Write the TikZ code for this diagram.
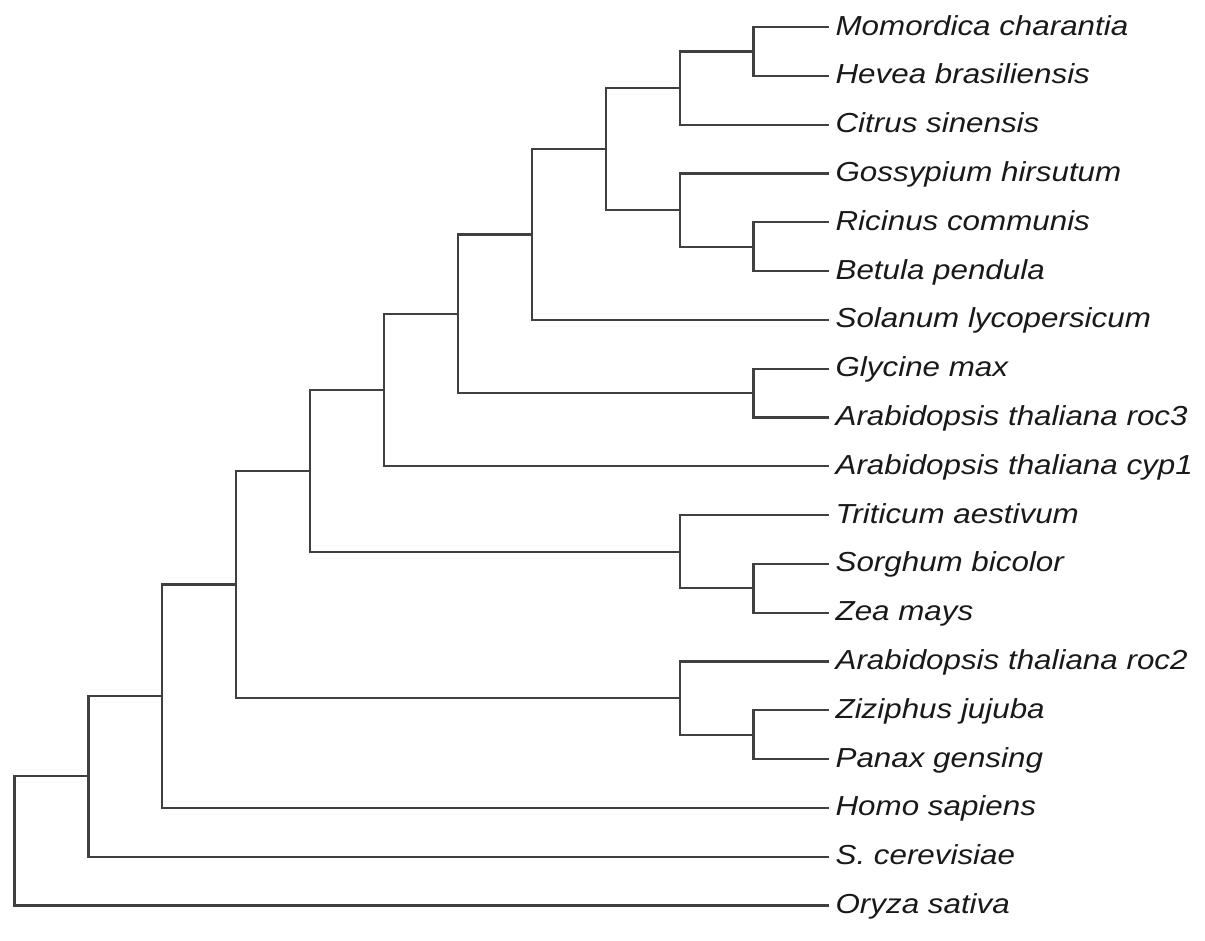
\documentclass[tikz,border=0pt]{standalone}
\usepackage{fontspec}
\setmainfont{Liberation Sans}[FakeStretch=1.14]
\begin{document}
\begin{tikzpicture}[x=1pt,y=-1pt,
  branch/.style={draw=black!75,line width=2.2pt,line cap=rect},
  leaf/.style={anchor=west,inner xsep=8pt,inner ysep=0pt,text height=21pt,text depth=5pt,
    font=\fontsize{27.5}{30}\selectfont\itshape,text=black!90}]
\useasboundingbox (0,0) rectangle (1205,940);
% leaves
\node[leaf] (l1) at (827.4,27) {Momordica charantia};
\node[leaf] (l2) at (827.4,75.8) {Hevea brasiliensis};
\node[leaf] (l3) at (827.4,124.6) {Citrus sinensis};
\node[leaf] (l4) at (827.4,173.4) {Gossypium hirsutum};
\node[leaf] (l5) at (827.4,222.2) {Ricinus communis};
\node[leaf] (l6) at (827.4,271) {Betula pendula};
\node[leaf] (l7) at (827.4,319.8) {Solanum lycopersicum};
\node[leaf] (l8) at (827.4,368.6) {Glycine max};
\node[leaf] (l9) at (827.4,417.4) {Arabidopsis thaliana roc3};
\node[leaf] (l10) at (827.4,466.2) {Arabidopsis thaliana cyp1};
\node[leaf] (l11) at (827.4,515) {Triticum aestivum};
\node[leaf] (l12) at (827.4,563.8) {Sorghum bicolor};
\node[leaf] (l13) at (827.4,612.6) {Zea mays};
\node[leaf] (l14) at (827.4,661.4) {Arabidopsis thaliana roc2};
\node[leaf] (l15) at (827.4,710.2) {Ziziphus jujuba};
\node[leaf] (l16) at (827.4,759) {Panax gensing};
\node[leaf] (l17) at (827.4,807.8) {Homo sapiens};
\node[leaf] (l18) at (827.4,856.6) {S. cerevisiae};
\node[leaf] (l19) at (827.4,905.4) {Oryza sativa};
% internal nodes
\coordinate (mh) at (753.5,51.4);
\coordinate (ni) at (679.6,88);
\coordinate (rb) at (753.5,246.6);
\coordinate (nj) at (679.6,210);
\coordinate (nh) at (605.7,149);
\coordinate (ng) at (531.8,234.4);
\coordinate (gr) at (753.5,393);
\coordinate (nf) at (457.9,313.7);
\coordinate (ne) at (384,389.95);
\coordinate (sz) at (753.5,588.2);
\coordinate (nt) at (679.6,551.6);
\coordinate (nd) at (310.1,470.8);
\coordinate (zp) at (753.5,734.6);
\coordinate (r2) at (679.6,698);
\coordinate (nc) at (236.2,584.4);
\coordinate (nb) at (162.3,696.1);
\coordinate (na) at (88.4,776.35);
\coordinate (root) at (14.5,840.9);
% connectors
\draw[branch] (mh) |- (l1.west); \draw[branch] (mh) |- (l2.west);
\draw[branch] (ni) |- (mh); \draw[branch] (ni) |- (l3.west);
\draw[branch] (rb) |- (l5.west); \draw[branch] (rb) |- (l6.west);
\draw[branch] (nj) |- (l4.west); \draw[branch] (nj) |- (rb);
\draw[branch] (nh) |- (ni); \draw[branch] (nh) |- (nj);
\draw[branch] (ng) |- (nh); \draw[branch] (ng) |- (l7.west);
\draw[branch] (gr) |- (l8.west); \draw[branch] (gr) |- (l9.west);
\draw[branch] (nf) |- (ng); \draw[branch] (nf) |- (gr);
\draw[branch] (ne) |- (nf); \draw[branch] (ne) |- (l10.west);
\draw[branch] (sz) |- (l12.west); \draw[branch] (sz) |- (l13.west);
\draw[branch] (nt) |- (l11.west); \draw[branch] (nt) |- (sz);
\draw[branch] (nd) |- (ne); \draw[branch] (nd) |- (nt);
\draw[branch] (zp) |- (l15.west); \draw[branch] (zp) |- (l16.west);
\draw[branch] (r2) |- (l14.west); \draw[branch] (r2) |- (zp);
\draw[branch] (nc) |- (nd); \draw[branch] (nc) |- (r2);
\draw[branch] (nb) |- (nc); \draw[branch] (nb) |- (l17.west);
\draw[branch] (na) |- (nb); \draw[branch] (na) |- (l18.west);
\draw[branch] (root) |- (na); \draw[branch] (root) |- (l19.west);
\end{tikzpicture}
\end{document}
